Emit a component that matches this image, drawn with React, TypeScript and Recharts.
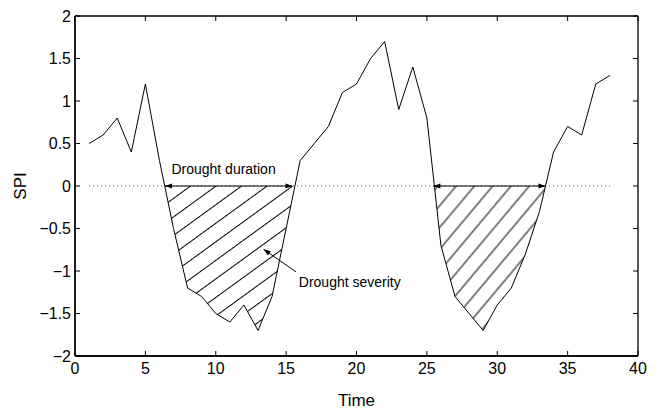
import { ComposedChart, Line, Area, XAxis, YAxis, ReferenceLine, ReferenceArea, ReferenceDot } from 'recharts';

const time = [1, 2, 3, 4, 5, 6, 7, 8, 9, 10, 11, 12, 13, 14, 15, 16, 17, 18, 19, 20, 21, 22, 23, 24, 25, 26, 27, 28, 29, 30, 31, 32, 33, 34, 35, 36, 37, 38];
const spi = [0.5, 0.6, 0.8, 0.4, 1.2, 0.3, -0.5, -1.2, -1.3, -1.5, -1.6, -1.4, -1.7, -1.3, -0.5, 0.3, 0.5, 0.7, 1.1, 1.2, 1.5, 1.7, 0.9, 1.4, 0.8, -0.7, -1.3, -1.5, -1.7, -1.4, -1.2, -0.8, -0.3, 0.4, 0.7, 0.6, 1.2, 1.3];

const xTicks = [0, 5, 10, 15, 20, 25, 30, 35, 40];
const yTicks = [-2, -1.5, -1, -0.5, 0, 0.5, 1, 1.5, 2];
const xDomain = [0, 40];
const yDomain = [-2, 2];

// drought runs (where the curve crosses zero) and the hatch used for each
const droughts = [
  { id: 'd1', start: 6.4, end: 15.45, angle: -36, gap: 15 },
  { id: 'd2', start: 25.46, end: 33.43, angle: -50, gap: 14 },
];

const severityArrow = [{ x: 15.7, y: -1.01 }, { x: 13.4, y: -0.745 }];
const durationText = { x: 6.85, y: 0.14, text: 'Drought duration' };
const severityText = { x: 15.9, y: -1.19, text: 'Drought severity' };

const data = time.map((t, i) => ({ t, spi: spi[i] }));

const [x0, x1] = xDomain;
const [y0, y1] = yDomain;
// box around the plot, as four segments
const frame = [
  [{ x: x0, y: y0 }, { x: x1, y: y0 }],
  [{ x: x0, y: y1 }, { x: x1, y: y1 }],
  [{ x: x0, y: y0 }, { x: x0, y: y1 }],
  [{ x: x1, y: y0 }, { x: x1, y: y1 }],
];

const FONT = '"Liberation Sans", Arial, Helvetica, sans-serif';
const TICK = 5;

const fmt = (v: number) => (v < 0 ? '\u2212' + Math.abs(v) : String(v));

const BottomTick = (p: any) => (
  <text x={p.x} y={p.y} dy="0.71em" textAnchor="middle" fontSize={16} fontFamily={FONT} fill="#000">
    {fmt(p.payload.value)}
  </text>
);

const LeftTick = (p: any) => (
  <text x={p.x} y={p.y} dy="0.35em" textAnchor="end" fontSize={16} fontFamily={FONT} fill="#000">
    {fmt(p.payload.value)}
  </text>
);

// inward tick marks on all four sides, matlab style
const XTickMarks = (p: any) => {
  const top = Math.min(p.y1, p.y2);
  const bottom = Math.max(p.y1, p.y2);
  return (
    <g stroke="#000" strokeWidth={1}>
      <line x1={p.x1} x2={p.x1} y1={top} y2={top + TICK} />
      <line x1={p.x1} x2={p.x1} y1={bottom} y2={bottom - TICK} />
    </g>
  );
};

const YTickMarks = (p: any) => {
  const left = Math.min(p.x1, p.x2);
  const right = Math.max(p.x1, p.x2);
  return (
    <g stroke="#000" strokeWidth={1}>
      <line x1={left} x2={left + TICK} y1={p.y1} y2={p.y1} />
      <line x1={right} x2={right - TICK} y1={p.y1} y2={p.y1} />
    </g>
  );
};

const head = (fx: number, fy: number, tx: number, ty: number) => {
  const a = Math.atan2(ty - fy, tx - fx);
  const L = 7;
  const W = 2.5;
  const bx = tx - L * Math.cos(a);
  const by = ty - L * Math.sin(a);
  return `${tx},${ty} ${bx + W * Math.sin(a)},${by - W * Math.cos(a)} ${bx - W * Math.sin(a)},${by + W * Math.cos(a)}`;
};

const DoubleArrow = (p: any) => (
  <g>
    <line x1={p.x1} y1={p.y1} x2={p.x2} y2={p.y2} stroke="#000" strokeWidth={1} />
    <polygon points={head(p.x1, p.y1, p.x2, p.y2)} fill="#000" />
    <polygon points={head(p.x2, p.y2, p.x1, p.y1)} fill="#000" />
  </g>
);

const SingleArrow = (p: any) => (
  <g>
    <line x1={p.x1} y1={p.y1} x2={p.x2} y2={p.y2} stroke="#000" strokeWidth={1} />
    <polygon points={head(p.x1, p.y1, p.x2, p.y2)} fill="#000" />
  </g>
);

const Note = (p: any) => (
  <text x={p.cx} y={p.cy} fontSize={14} fontFamily={FONT} fill="#000">
    {p.text}
  </text>
);

const hatchDefs = (d: typeof droughts[number]) => (p: any) => (
  <defs>
    <clipPath id={`spi-hatch-clip-${d.id}`}>
      <rect x={p.x} y={p.y} width={p.width} height={p.height} />
    </clipPath>
    <pattern id={`spi-hatch-${d.id}`} patternUnits="userSpaceOnUse" width={d.gap} height={d.gap} patternTransform={`rotate(${d.angle})`}>
      <line x1={0} y1={d.gap / 2} x2={d.gap} y2={d.gap / 2} stroke="#000" strokeWidth={1} />
    </pattern>
  </defs>
);

const SpiLabel = (props: any) => {
  const { x, y, height } = props.viewBox;
  const cx = x + 20;
  const cy = y + height / 2;
  return (
    <text x={cx} y={cy} dy="0.35em" textAnchor="middle" transform={`rotate(-90 ${cx} ${cy})`} fontSize={17} fontFamily={FONT} fill="#000">
      SPI
    </text>
  );
};

const TimeLabel = (props: any) => {
  const { x, y, width } = props.viewBox;
  return (
    <text x={x + width / 2} y={y + 50} textAnchor="middle" fontSize={17} fontFamily={FONT} fill="#000">
      Time
    </text>
  );
};

export default function App() {
  return (
    <div style={{ position: 'absolute', left: 0, top: 0 }}>
      <ComposedChart width={660} height={411} data={data} margin={{ top: 16, right: 22, bottom: 0, left: 0 }}>
        <XAxis
          dataKey="t"
          type="number"
          domain={xDomain}
          ticks={xTicks}
          interval={0}
          height={55}
          tickSize={0}
          tickMargin={7}
          tickLine={false}
          axisLine={{ stroke: '#000', strokeWidth: 1.3 }}
          tick={<BottomTick />}
          label={<TimeLabel />}
        />
        <YAxis
          type="number"
          domain={yDomain}
          ticks={yTicks}
          interval={0}
          width={75}
          tickSize={0}
          tickMargin={4}
          tickLine={false}
          axisLine={{ stroke: '#000', strokeWidth: 1.3 }}
          tick={<LeftTick />}
          label={<SpiLabel />}
        />

        {droughts.map((d) => (
          <ReferenceArea key={`ra-${d.id}`} x1={d.start} x2={d.end} y1={-2} y2={0} shape={hatchDefs(d)} />
        ))}
        {droughts.map((d) => (
          <Area
            key={`area-${d.id}`}
            dataKey="spi"
            baseValue={0}
            type="linear"
            stroke="none"
            fill={`url(#spi-hatch-${d.id})`}
            fillOpacity={1}
            clipPath={`url(#spi-hatch-clip-${d.id})`}
            dot={false}
            activeDot={false}
            isAnimationActive={false}
          />
        ))}

        <ReferenceLine
          segment={[{ x: time[0], y: 0 }, { x: time[time.length - 1], y: 0 }]}
          stroke="#555"
          strokeWidth={1}
          strokeDasharray="1 3"
        />

        {frame.map((seg, i) => (
          <ReferenceLine key={`frame-${i}`} segment={seg} stroke="#000" strokeWidth={1.3} />
        ))}
        {xTicks.map((t) => (
          <ReferenceLine key={`xt-${t}`} segment={[{ x: t, y: y0 }, { x: t, y: y1 }]} shape={<XTickMarks />} />
        ))}
        {yTicks.map((v) => (
          <ReferenceLine key={`yt-${v}`} segment={[{ x: x0, y: v }, { x: x1, y: v }]} shape={<YTickMarks />} />
        ))}

        <Line dataKey="spi" type="linear" stroke="#000" strokeWidth={1} dot={false} activeDot={false} isAnimationActive={false} />

        {droughts.map((d) => (
          <ReferenceLine
            key={`dur-${d.id}`}
            segment={[{ x: d.start, y: 0 }, { x: d.end, y: 0 }]}
            shape={<DoubleArrow />}
          />
        ))}
        <ReferenceLine segment={severityArrow} shape={<SingleArrow />} />

        <ReferenceDot x={durationText.x} y={durationText.y} r={0} shape={<Note text={durationText.text} />} />
        <ReferenceDot x={severityText.x} y={severityText.y} r={0} shape={<Note text={severityText.text} />} />
      </ComposedChart>
    </div>
  );
}
